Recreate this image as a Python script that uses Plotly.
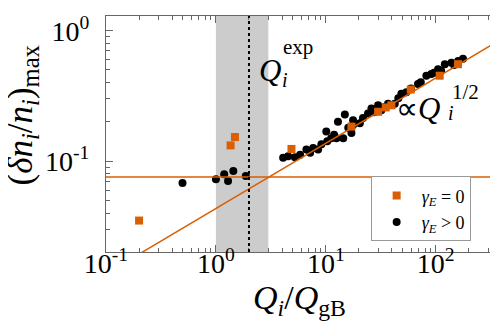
import plotly.graph_objects as go

# gamma_E = 0 runs (orange squares)
sq_q = [0.2, 1.36, 1.49, 4.87, 17.1, 29.9, 35.1, 39.5, 59.3, 108.7, 159.6]
sq_dn = [0.035, 0.132, 0.153, 0.124, 0.184, 0.239, 0.258, 0.268, 0.354, 0.452, 0.554]

# gamma_E > 0 runs (black circles)
ci_q = [0.497, 1.0, 1.19, 1.29, 1.44, 1.87, 4.09, 4.54, 5.23, 5.84, 6.66, 7.2, 7.67,
        8.51, 9.12, 10.3, 10.1, 11.2, 11.9, 12.5, 12.9, 14.9, 14.4, 16.0, 17.1, 17.7,
        17.7, 20.4, 21.8, 24.2, 26.0, 27.5, 29.9, 32.0, 33.9, 36.8, 42.4, 45.7, 48.7,
        54.0, 59.6, 69.0, 73.1, 82.2, 91.2, 96.6, 105, 112, 121, 139, 147, 160, 177]
ci_dn = [0.0679, 0.0727, 0.0794, 0.0703, 0.084, 0.077, 0.106, 0.109, 0.107, 0.112, 0.123,
         0.116, 0.126, 0.123, 0.135, 0.142, 0.169, 0.150, 0.159, 0.150, 0.200, 0.228,
         0.150, 0.180, 0.164, 0.206, 0.189, 0.195, 0.214, 0.232, 0.253, 0.237, 0.268,
         0.246, 0.259, 0.276, 0.276, 0.303, 0.329, 0.338, 0.360, 0.391, 0.402, 0.452,
         0.465, 0.476, 0.507, 0.493, 0.554, 0.569, 0.547, 0.586, 0.610]

# reference levels
floor_level = 0.0757     # horizontal line
fit_coef = 0.0433        # dn/n = fit_coef * Q^fit_exp
fit_exp = 0.5
fit_q = [0.1, 400]
q_exp_band = [1, 3]
q_exp = 2

x_ticks = [0.1, 1, 10, 100]
x_ticktext = ["10<sup>-1</sup>", "10<sup>0</sup>", "10<sup>1</sup>", "10<sup>2</sup>"]
y_ticks = [0.1, 1]
y_ticktext = ["10<sup>-1</sup>", "10<sup>0</sup>"]

orange = "#D95F02"
axcol = "#666666"
serif = "Liberation Serif, Times New Roman, serif"

x_minor = [m * d for d in [0.1, 1, 10, 100] for m in range(2, 10)]
y_minor = [m * d for d in [0.01, 0.1] for m in range(2, 10)]

fig = go.Figure()

fig.add_trace(go.Scatter(x=ci_q, y=ci_dn, mode="markers", name="<i>γ<sub>E</sub></i> > 0",
                         marker=dict(symbol="circle", size=8, color="black"),
                         legendrank=2, legendgroup="b"))
fig.add_trace(go.Scatter(x=fit_q, y=[floor_level, floor_level], mode="lines",
                         line=dict(color=orange, width=1.5), showlegend=False))
fig.add_trace(go.Scatter(x=fit_q, y=[fit_coef * q ** fit_exp for q in fit_q], mode="lines",
                         line=dict(color=orange, width=1.5), showlegend=False))
fig.add_trace(go.Scatter(x=sq_q, y=sq_dn, mode="markers", name="<i>γ<sub>E</sub></i> = 0",
                         marker=dict(symbol="square", size=8, color=orange),
                         legendrank=1, legendgroup="a"))

fig.add_vrect(x0=q_exp_band[0], x1=q_exp_band[1], fillcolor="#cccccc", line_width=0,
              layer="below")
fig.add_vline(x=q_exp, line=dict(color="black", width=2, dash="dot"))


def label(x, y, text, size, **kw):
    fig.add_annotation(x=x, y=y, xref="paper", yref="paper", text=text, showarrow=False,
                       font=dict(size=size, family=serif, color="black"),
                       xanchor=kw.pop("xanchor", "left"), yanchor="middle", **kw)


# Q_i^exp
label(0.383, 0.767, "<i>Q</i>", 31)
label(0.44, 0.727, "<i>i</i>", 20)
label(0.442, 0.867, "exp", 21)

# ∝ Q_i^{1/2}
label(0.73, 0.61, "∝<i>Q</i>", 31)
label(0.862, 0.588, "<i>i</i>", 20)
label(0.87, 0.68, "1/2", 21)

# axis titles
label(-0.212, 0.58, "(<i>δn<sub>i</sub></i>/<i>n<sub>i</sub></i>)<sub>max</sub>", 35,
      textangle=-90, xanchor="center")
label(0.49, -0.205, "<i>Q<sub>i</sub></i>/<i>Q</i><sub>gB</sub>", 34, xanchor="center")

axis_common = dict(
    type="log", showgrid=False, zeroline=False,
    showline=True, linecolor=axcol, linewidth=1, mirror="allticks",
    ticks="inside", ticklen=7, tickcolor=axcol, tickwidth=1,
    tickfont=dict(size=28, family=serif, color="black"),
)

fig.update_xaxes(**axis_common, range=[-1, 2.594], tickvals=x_ticks, ticktext=x_ticktext,
                 ticklabelstandoff=-14,
                 minor=dict(ticks="inside", ticklen=4, tickcolor=axcol, tickvals=x_minor,
                            showgrid=False))
fig.update_yaxes(**axis_common, range=[-1.697, 0.113], tickvals=y_ticks, ticktext=y_ticktext,
                 ticklabelstandoff=10,
                 minor=dict(ticks="inside", ticklen=4, tickcolor=axcol, tickvals=y_minor,
                            showgrid=False))

fig.update_layout(
    width=498, height=321,
    margin=dict(l=98, r=5, t=4, b=77),
    plot_bgcolor="white", paper_bgcolor="white",
    font=dict(family=serif, color="black"),
    legend=dict(x=0.67, y=0.045, xanchor="left", yanchor="bottom",
                bordercolor="#999999", borderwidth=1, bgcolor="white",
                font=dict(size=18, family=serif), itemwidth=40, tracegroupgap=0),
)

fig.write_html("out.html")
